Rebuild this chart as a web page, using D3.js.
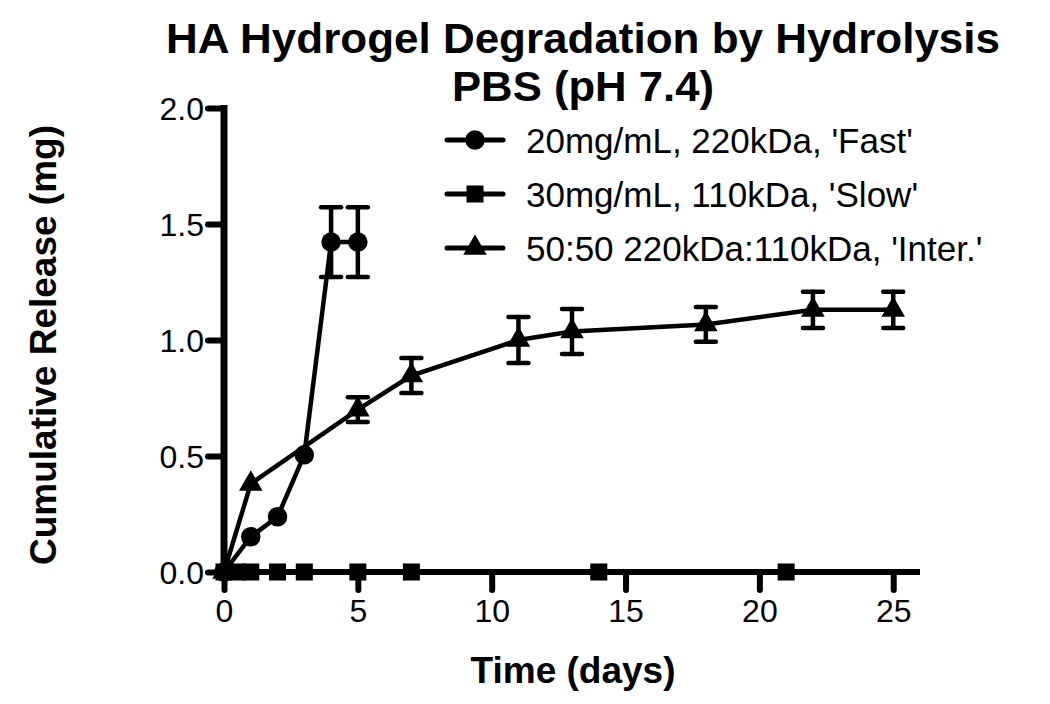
<!DOCTYPE html>
<html>
<head>
<meta charset="utf-8">
<script src="https://cdn.jsdelivr.net/npm/d3@7"></script>
<style>
  body { margin: 0; background: #fff; }
  svg text { font-family: "Liberation Sans", Arial, sans-serif; fill: #000; }
</style>
</head>
<body>
<svg id="chart" width="1050" height="704"></svg>
<script>
// values
const fastDays = [0, 1, 2, 3, 4, 5];
const fastRelease = [0, 0.152, 0.238, 0.505, 1.422, 1.422];
const fastErr = [0, 0, 0, 0, 0.15, 0.15];

const slowDays = [0, 0.5, 1, 2, 3, 5, 7, 14, 21];
const slowRelease = [0, 0, 0, 0, 0, 0, 0, 0, 0];
const slowErr = [0, 0, 0, 0, 0, 0, 0, 0, 0];

const interDays = [0, 1, 5, 7, 11, 13, 18, 22, 25];
const interRelease = [0, 0.38, 0.70, 0.847, 1.0, 1.037, 1.067, 1.13, 1.13];
const interErr = [0, 0, 0.053, 0.075, 0.099, 0.097, 0.075, 0.078, 0.078];

const seriesNames = ["20mg/mL, 220kDa, 'Fast'", "30mg/mL, 110kDa, 'Slow'", "50:50 220kDa:110kDa, 'Inter.'"];
const seriesSymbols = [d3.symbolCircle, d3.symbolSquare, d3.symbolTriangle];
const xTicks = [0, 5, 10, 15, 20, 25];
const yTicks = [0, 0.5, 1.0, 1.5, 2.0];
const titleLines = ["HA Hydrogel Degradation by Hydrolysis", "PBS (pH 7.4)"];

const series = [
  { days: fastDays, vals: fastRelease, err: fastErr },
  { days: slowDays, vals: slowRelease, err: slowErr },
  { days: interDays, vals: interRelease, err: interErr },
].map((s, i) => ({
  name: seriesNames[i],
  symbol: seriesSymbols[i],
  points: s.days.map((d, j) => ({ x: d, y: s.vals[j], e: s.err[j] })),
}));

const svg = d3.select("#chart");
const x = d3.scaleLinear().domain([0, 26]).range([224, 920]);
const y = d3.scaleLinear().domain([0, 2]).range([572, 108]);

const symbolSize = [300, 290, 240];

// title (condensed bold look, squeezed to the reference width)
svg.append("g").selectAll("text")
  .data(titleLines)
  .join("text")
  .attr("x", 583)
  .attr("y", (d, i) => 53 + i * 48)
  .attr("text-anchor", "middle")
  .style("font-family", "'Liberation Sans Narrow', 'Arial Narrow', 'Liberation Sans', sans-serif")
  .style("font-weight", "bold")
  .style("font-size", "43px")
  .attr("textLength", (d, i) => (i === 0 ? 834 : 262))
  .attr("lengthAdjust", "spacingAndGlyphs")
  .text((d) => d);

// axes
const xAxis = svg.append("g")
  .attr("transform", `translate(0,${y(0)})`)
  .call(d3.axisBottom(x).tickValues(xTicks).tickSize(18).tickPadding(8).tickFormat(d3.format("d")));
const yAxis = svg.append("g")
  .attr("transform", `translate(${x(0)},0)`)
  .call(d3.axisLeft(y).tickValues(yTicks).tickSize(16).tickPadding(4).tickFormat(d3.format(".1f")));

[xAxis, yAxis].forEach((ax) => {
  ax.select(".domain").remove();
  ax.selectAll(".tick line").attr("stroke", "#000").attr("stroke-width", 6).attr("stroke-linecap", "round");
  ax.selectAll(".tick text").style("font-size", "32px").attr("fill", "#000");
});
xAxis.selectAll(".tick text").attr("dy", "0.75em");
yAxis.selectAll(".tick text").attr("dy", "0.36em");

svg.append("line")
  .attr("x1", x(0)).attr("x2", x(26))
  .attr("y1", y(0)).attr("y2", y(0))
  .attr("stroke", "#000").attr("stroke-width", 6);
svg.append("line")
  .attr("x1", x(0)).attr("x2", x(0))
  .attr("y1", y(0) + 3).attr("y2", y(2) - 3)
  .attr("stroke", "#000").attr("stroke-width", 7);

// axis titles
svg.append("text")
  .attr("x", 573).attr("y", 683)
  .attr("text-anchor", "middle")
  .style("font-weight", "bold").style("font-size", "37px")
  .text("Time (days)");
svg.append("text")
  .attr("transform", "translate(56,345) rotate(-90)")
  .attr("text-anchor", "middle")
  .style("font-weight", "bold").style("font-size", "37px")
  .text("Cumulative Release (mg)");

// data lines, error bars, markers
const line = d3.line().x((d) => x(d.x)).y((d) => y(d.y));
const plot = svg.append("g");
series.forEach((s, i) => {
  const g = plot.append("g");
  g.append("path")
    .datum(s.points)
    .attr("d", line)
    .attr("fill", "none")
    .attr("stroke", "#000")
    .attr("stroke-width", 4.5);

  const bars = g.selectAll("g.err")
    .data(s.points.filter((p) => p.e > 0))
    .join("g")
    .attr("class", "err")
    .attr("stroke", "#000")
    .attr("stroke-width", 4.5)
    .attr("stroke-linecap", "round");
  bars.append("line")
    .attr("x1", (d) => x(d.x)).attr("x2", (d) => x(d.x))
    .attr("y1", (d) => y(d.y - d.e)).attr("y2", (d) => y(d.y + d.e));
  [1, -1].forEach((sgn) => {
    bars.append("line")
      .attr("x1", (d) => x(d.x) - 10).attr("x2", (d) => x(d.x) + 10)
      .attr("y1", (d) => y(d.y + sgn * d.e)).attr("y2", (d) => y(d.y + sgn * d.e));
  });

  g.selectAll("path.mark")
    .data(s.points)
    .join("path")
    .attr("class", "mark")
    .attr("d", d3.symbol().type(s.symbol).size(symbolSize[i]))
    .attr("transform", (d) => `translate(${x(d.x)},${y(d.y)})`)
    .attr("fill", "#000");
});

// legend
const legend = svg.append("g")
  .selectAll("g")
  .data(series)
  .join("g")
  .attr("transform", (d, i) => `translate(475,${140 + i * 54})`);
legend.append("line")
  .attr("x1", -28).attr("x2", 28)
  .attr("stroke", "#000").attr("stroke-width", 5).attr("stroke-linecap", "round");
legend.append("path")
  .attr("d", (d, i) => d3.symbol().type(d.symbol).size(symbolSize[i])())
  .attr("fill", "#000");
legend.append("text")
  .attr("x", 51).attr("dy", "0.36em")
  .style("font-size", "35px")
  .text((d) => d.name);
</script>
</body>
</html>
